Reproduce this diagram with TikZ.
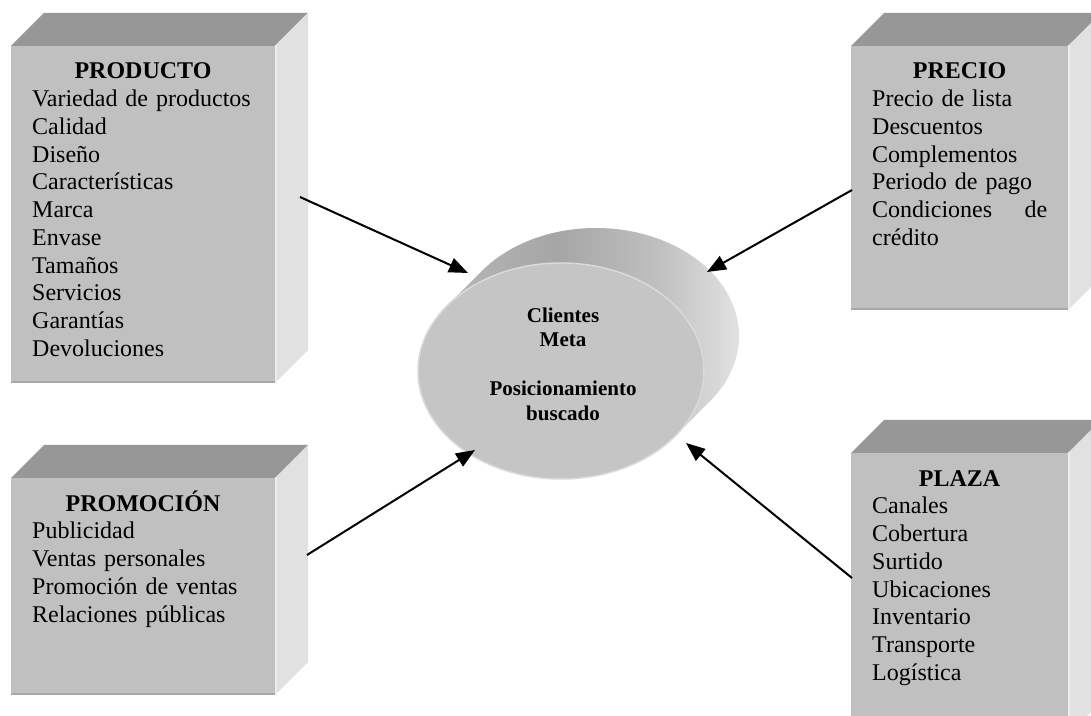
\documentclass[tikz,border=0pt]{standalone}
\usepackage{fontspec}
\setmainfont{Liberation Serif}
\usetikzlibrary{arrows.meta,calc,shapes.geometric}

\definecolor{facefront}{HTML}{C0C0C0}
\definecolor{facetop}{HTML}{979797}
\definecolor{faceside}{HTML}{E1E1E1}
\definecolor{sidelit}{HTML}{EDEDED}
\definecolor{edgedark}{HTML}{A8A8A8}
\definecolor{discfront}{HTML}{C5C5C5}
\definecolor{discrim}{HTML}{DADADA}

% shading of the rim of the disc, dark at the top and light on the right
\pgfdeclarehorizontalshading{rimshade}{100bp}{%
  color(0bp)=(black!26); color(25bp)=(black!26); color(33bp)=(black!29);
  color(47bp)=(black!35); color(61bp)=(black!25); color(72bp)=(black!12);
  color(75bp)=(black!12); color(100bp)=(black!12)}

\tikzset{
  frontface/.style={rectangle, fill=facefront, inner sep=0pt, outer sep=0pt},
  topface/.style={fill=facetop},
  sideface/.style={fill=faceside},
  sidelight/.style={draw=sidelit, line width=2pt},
  bottomedge/.style={draw=edgedark, line width=2pt},
  titletext/.style={anchor=base, inner sep=0pt, font=\fontsize{24pt}{27.7pt}\selectfont\bfseries},
  listtext/.style={anchor=north west, inner sep=0pt, align=left, font=\fontsize{24pt}{27.7pt}\selectfont},
  centertext/.style={anchor=north, inner sep=0pt, align=center, font=\fontsize{21pt}{24.5pt}\selectfont\bfseries},
  feed/.style={line width=2pt, -{Triangle[length=19pt,width=15pt]}},
}

% #1 name, #2 x, #3 y of the lower left front corner, #4 width, #5 height, #6 title
\newcommand\cubebox[6]{%
  \node[frontface, minimum width=#4pt, minimum height=#5pt, anchor=south west] (#1) at (#2,#3) {};
  \fill[topface] (#1.north west) -- ++(33,33) -- ++(#4,0) -- (#1.north east) -- cycle;
  \fill[sideface] (#1.north east) -- ++(33,33) -- ++(0,-#5) -- (#1.south east) -- cycle;
  \draw[sidelight] ($(#1.north east)+(1,1)$) -- ($(#1.south east)+(1,0)$);
  \draw[bottomedge] ($(#1.south west)+(0,1)$) -- ($(#1.south east)+(0,1)$);
  \node[titletext] (#1-title) at ($(#1.north)+(0,-33)$) {#6};
}

\begin{document}
\begin{tikzpicture}[x=1pt,y=1pt]
\clip (0,0) rectangle (1091,715);
\fill[white] (0,0) rectangle (1091,715);

% the four boxes
\cubebox{prod}{11}{332}{264}{337}{PRODUCTO}
\node[listtext, text width=222pt] (prod-list) at ($(prod.north west)+(21,-38.7)$)
  {\rule{0pt}{22pt}Variedad de productos\\Calidad\\Diseño\\Características\\Marca\\Envase\\Tamaños\\Servicios\\Garantías\\Devoluciones};

\cubebox{prec}{851}{405}{217}{264}{PRECIO}
\node[listtext, text width=175pt] (prec-list) at ($(prec.north west)+(21,-38.7)$)
  {\rule{0pt}{22pt}Precio de lista\\Descuentos\\Complementos\\Periodo de pago\\Condiciones\hfill de\\crédito};

\cubebox{prom}{11}{20}{264}{217}{PROMOCIÓN}
\node[listtext, text width=222pt] (prom-list) at ($(prom.north west)+(21,-38.7)$)
  {\rule{0pt}{22pt}Publicidad\\Ventas personales\\Promoción de ventas\\Relaciones públicas};

\cubebox{plaza}{851}{-20}{217}{282}{PLAZA}
\node[listtext, text width=175pt] (plaza-list) at ($(plaza.north west)+(21,-38.7)$)
  {\rule{0pt}{22pt}Canales\\Cobertura\\Surtido\\Ubicaciones\\Inventario\\Transporte\\Logística};

% the central disc: shaded rim, then its front face
\coordinate (fc) at (561,344);
\path[shading=rimshade]
  (fc) ++(142.95:143 and 108) -- ++(35,35)
  arc[start angle=142.95, end angle=-37.05, x radius=143, y radius=108]
  -- ++(-35,-35)
  arc[start angle=-37.05, end angle=-217.05, x radius=143, y radius=108] -- cycle;
\node[ellipse, fill=discfront, draw=discrim, line width=1.5pt, minimum width=286pt,
  minimum height=216pt, inner sep=0pt] (cli) at (fc) {};
\node[centertext] (cli-text) at (563,413)
  {\rule{0pt}{20pt}Clientes\\Meta\\[24.5pt]Posicionamiento\\buscado};

% connectors
\coordinate (s1) at (300,518);  \coordinate (t1) at (468,442);
\coordinate (s2) at (852,525);  \coordinate (t2) at (707,443);
\coordinate (s3) at (307,160);  \coordinate (t3) at (475,265);
\coordinate (s4) at (852,137);  \coordinate (t4) at (686,272);
\draw[feed] (s1) -- (t1);
\draw[feed] (s2) -- (t2);
\draw[feed] (s3) -- (t3);
\draw[feed] (s4) -- (t4);
\end{tikzpicture}
\end{document}
